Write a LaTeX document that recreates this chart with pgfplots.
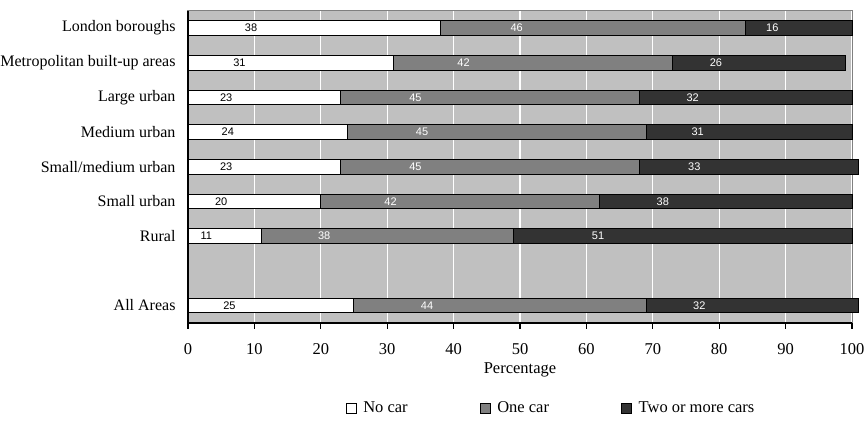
\documentclass[border=0pt]{standalone}
\usepackage{pgfplots}
\pgfplotsset{compat=1.18}
\usepackage{pgfplotstable}
\usepackage{fontspec}
\setmainfont{Liberation Serif}
\newfontfamily\valuefont{Liberation Sans}

\definecolor{plotbg}{RGB}{192,192,192}
\definecolor{onecar}{RGB}{128,128,128}
\definecolor{twocars}{RGB}{51,51,51}
\definecolor{frame}{RGB}{128,128,128}

\newcommand{\chartfont}{\fontsize{16.5bp}{19bp}\selectfont}

% offset that moves a value label back to the middle of its segment
\pgfplotsset{
  half segment/.code={%
    \pgfkeys{/pgf/fpu=true,/pgf/fpu/output format=fixed}%
    \pgfmathsetmacro\segshift{\pgfplotspointmeta*1.66}%
    \pgfkeys{/pgf/fpu=false}%
  },
}

% Car availability by area type (percentages of households)
\pgfplotstableread{
pos nocar onecar twocars
0   38    46     16
1   31    42     26
2   23    45     32
3   24    45     31
4   23    45     33
5   20    42     38
6   11    38     51
8   25    44     32
}\cartable

\begin{document}
\begin{tikzpicture}
\path[use as bounding box] (-188bp,-113.3bp) rectangle (676bp,322.7bp);
\begin{axis}[
  at={(0,0)}, anchor=south west,
  scale only axis,
  width=664bp, height=312bp,
  clip=false,
  xbar stacked,
  bar width=14.7bp,
  xmin=0, xmax=100,
  ymin=-0.5, ymax=8.5,
  y dir=reverse,
  xtick={0,10,...,100},
  ytick={0,1,2,3,4,5,6,8},
  yticklabels={London boroughs, Metropolitan built-up areas, Large urban,
    Medium urban, Small/medium urban, Small urban, Rural, All Areas},
  xtick pos=bottom,
  ytick pos=left,
  tick align=outside,
  major tick length=6bp,
  xtick style={black, line width=1.2bp},
  ytick style={draw=none},
  /pgf/number format/assume math mode=true,
  tick label style={font=\chartfont},
  xticklabel style={yshift=-11bp},
  yticklabel style={font=\fontsize{16bp}{19bp}\selectfont, xshift=-3bp},
  xlabel={Percentage},
  xlabel style={font=\chartfont, at={(axis description cs:0.5,-0.1506)}, anchor=center},
  axis background/.style={fill=plotbg},
  axis line style={draw=frame, line width=1bp},
  xmajorgrids,
  grid style={white, line width=1.3bp},
  point meta=explicit,
  nodes near coords,
  nodes near coords style={font=\valuefont\fontsize{11bp}{12bp}\selectfont, anchor=center},
  every node near coord/.append style={/pgfplots/half segment, xshift=-\segshift bp},
  legend columns=3,
  legend style={draw=none, fill=none, font=\chartfont,
    at={(0.5467,-0.2734)}, anchor=center,
    /tikz/every odd column/.append style={column sep=5bp},
    /tikz/every even column/.append style={column sep=70bp}},
  legend image code/.code={\draw[#1, draw=black, line width=0.6bp] (0bp,-5bp) rectangle (10bp,5bp);},
  after end axis/.code={
    \draw[black, line width=2bp] (axis description cs:0,1) -- (axis description cs:0,0) -- (axis description cs:1,0);
  },
]
\addplot[fill=white, draw=black, line width=1bp,
  nodes near coords style={text=black}]
  table[x=nocar, y=pos, meta=nocar] {\cartable};
\addplot[fill=onecar, draw=black, line width=1bp,
  nodes near coords style={text=white}]
  table[x=onecar, y=pos, meta=onecar] {\cartable};
\addplot[fill=twocars, draw=black, line width=1bp,
  nodes near coords style={text=white}]
  table[x=twocars, y=pos, meta=twocars] {\cartable};
\legend{No car, One car, Two or more cars}
\end{axis}
\end{tikzpicture}
\end{document}
